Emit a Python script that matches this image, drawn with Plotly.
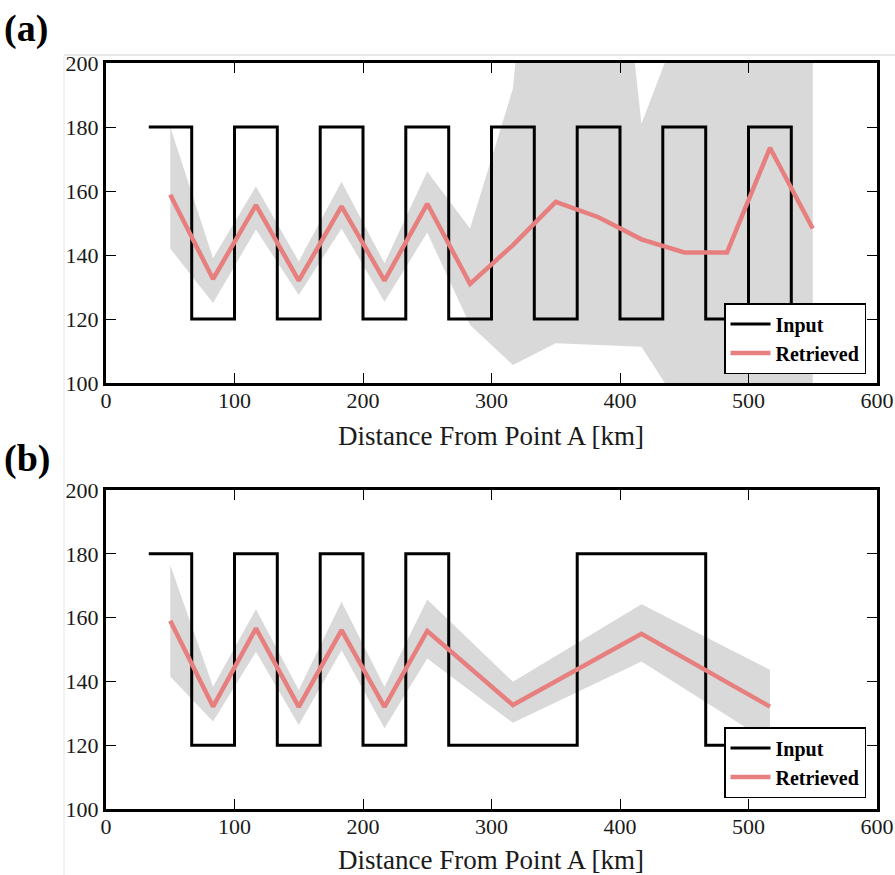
import plotly.graph_objects as go

# ---- data -------------------------------------------------------------
# (a) input square wave: segment edges and levels
in_edges_a = [33.3, 66.7, 100.0, 133.3, 166.7, 200.0, 233.3, 266.7, 300.0,
              333.3, 366.7, 400.0, 433.3, 466.7, 500.0, 533.3, 566.7]
in_level_a = [180, 120, 180, 120, 180, 120, 180, 120,
              180, 120, 180, 120, 180, 120, 180, 120]

# (a) retrieved values and uncertainty envelope
ret_x_a = [50.0, 83.3, 116.7, 150.0, 183.3, 216.7, 250.0, 283.3,
           316.7, 350.0, 383.3, 416.7, 450.0, 483.3, 516.7, 550.0]
ret_y_a = [158.8, 132.5, 155.6, 132.0, 155.2, 132.0, 156.0, 131.0,
           143.1, 156.6, 151.8, 144.9, 140.8, 140.8, 173.5, 148.3]
ret_hi_a = [180.0, 139.0, 161.4, 138.0, 162.9, 137.4, 166.1, 148.3,
            192.0, 337.0, 304.0, 181.0, 216.0, 260.0, 280.0, 290.0]
ret_lo_a = [142.0, 125.0, 148.0, 127.5, 148.3, 125.4, 147.0, 118.1,
            105.6, 112.4, 111.9, 111.3, 90.6, 80.0, 75.0, 70.0]

# (b) input wave with longer segments towards the end
in_edges_b = [33.3, 66.7, 100.0, 133.3, 166.7, 200.0, 233.3, 266.7,
              366.7, 466.7, 566.7]
in_level_b = [180, 120, 180, 120, 180, 120, 180, 120, 180, 120]

# (b) retrieved values and uncertainty envelope
ret_x_b = [50.0, 83.3, 116.7, 150.0, 183.3, 216.7, 250.0, 316.7, 416.7, 516.7]
ret_y_b = [159.0, 132.1, 156.6, 132.0, 156.1, 132.0, 155.8, 132.6, 154.9, 132.1]
ret_hi_b = [176.5, 138.3, 162.6, 137.3, 165.0, 138.3, 165.7, 139.9, 164.2, 143.6]
ret_lo_b = [141.5, 127.4, 149.3, 126.3, 149.8, 125.3, 147.2, 127.0, 146.2, 120.8]

x_ticks = [0, 100, 200, 300, 400, 500, 600]
y_ticks = [100, 120, 140, 160, 180, 200]

# ---- styling ----------------------------------------------------------
SERIF = "Liberation Serif"
PINK = "#E77F7F"
BAND = "#D9D9D9"
W, H = 895, 875


def px_x(v):
    return v / W


def px_y(v):
    return 1 - v / H


fig = go.Figure()


def add_panel(edges, levels, rx, ry, rhi, rlo, xa, ya, legend):
    # shaded envelope as a closed polygon
    fig.add_trace(go.Scatter(
        x=rx + rx[::-1], y=rhi + rlo[::-1], fill="toself",
        fillcolor=BAND, line=dict(width=0), mode="lines",
        hoverinfo="skip", showlegend=False, xaxis=xa, yaxis=ya))
    fig.add_trace(go.Scatter(
        x=edges, y=levels + [levels[-1]], mode="lines",
        line=dict(color="black", width=3, shape="hv"),
        name="Input", legend=legend, xaxis=xa, yaxis=ya))
    fig.add_trace(go.Scatter(
        x=rx, y=ry, mode="lines", line=dict(color=PINK, width=4.5),
        name="Retrieved", legend=legend, xaxis=xa, yaxis=ya))


add_panel(in_edges_a, in_level_a, ret_x_a, ret_y_a, ret_hi_a, ret_lo_a,
          "x", "y", "legend")
add_panel(in_edges_b, in_level_b, ret_x_b, ret_y_b, ret_hi_b, ret_lo_b,
          "x2", "y2", "legend2")

axis_common = dict(
    showline=True, linecolor="black", linewidth=3, mirror="ticks",
    ticks="inside", ticklen=10, tickwidth=1.3, tickcolor="black",
    showgrid=False, zeroline=False, automargin=False,
    tickfont=dict(family=SERIF, size=22, color="#1a1a1a"),
)

x_dom = [px_x(106), px_x(877)]
legend_common = dict(
    bgcolor="white", bordercolor="black", borderwidth=1.5,
    font=dict(family=SERIF, size=20, color="black", weight="bold"),
    xanchor="right", yanchor="bottom", tracegroupgap=0,
    itemwidth=40,
)

fig.update_layout(
    template="none",
    width=W, height=H, margin=dict(l=0, r=0, t=0, b=0, autoexpand=False),
    paper_bgcolor="white", plot_bgcolor="white",
    xaxis=dict(domain=x_dom, range=[0, 600], tickvals=x_ticks,
               anchor="y", ticklabelstandoff=-4, **axis_common),
    yaxis=dict(domain=[px_y(383), px_y(63)], range=[100, 200],
               tickvals=y_ticks, anchor="x", **axis_common),
    xaxis2=dict(domain=x_dom, range=[0, 600], tickvals=x_ticks,
                anchor="y2", ticklabelstandoff=-4, **axis_common),
    yaxis2=dict(domain=[px_y(809), px_y(490)], range=[100, 200],
                tickvals=y_ticks, anchor="x2", **axis_common),
    legend=dict(x=px_x(866), y=px_y(374), **legend_common),
    legend2=dict(x=px_x(866), y=px_y(798), **legend_common),
    showlegend=True,
)

# panel letters and axis titles
for label, mid in (("(a)", 28), ("(b)", 458)):
    fig.add_annotation(text=f"<b>{label}</b>", xref="paper", yref="paper",
                       x=px_x(2), y=px_y(mid), xanchor="left",
                       yanchor="middle", showarrow=False,
                       font=dict(family=SERIF, size=38, color="black"))

for ypix in (436, 860):
    fig.add_annotation(text="Distance From Point A [km]", xref="paper",
                       yref="paper", x=px_x(491), y=px_y(ypix),
                       xanchor="center", yanchor="middle", showarrow=False,
                       font=dict(family=SERIF, size=27, color="#1a1a1a"))

# thin page border
fig.add_shape(type="line", xref="paper", yref="paper",
              x0=px_x(64), x1=1, y0=px_y(55), y1=px_y(55),
              line=dict(color="#cfcfcf", width=1))
fig.add_shape(type="line", xref="paper", yref="paper",
              x0=px_x(64), x1=px_x(64), y0=px_y(55), y1=0,
              line=dict(color="#e6e6e6", width=1))

fig.write_html("out.html")
